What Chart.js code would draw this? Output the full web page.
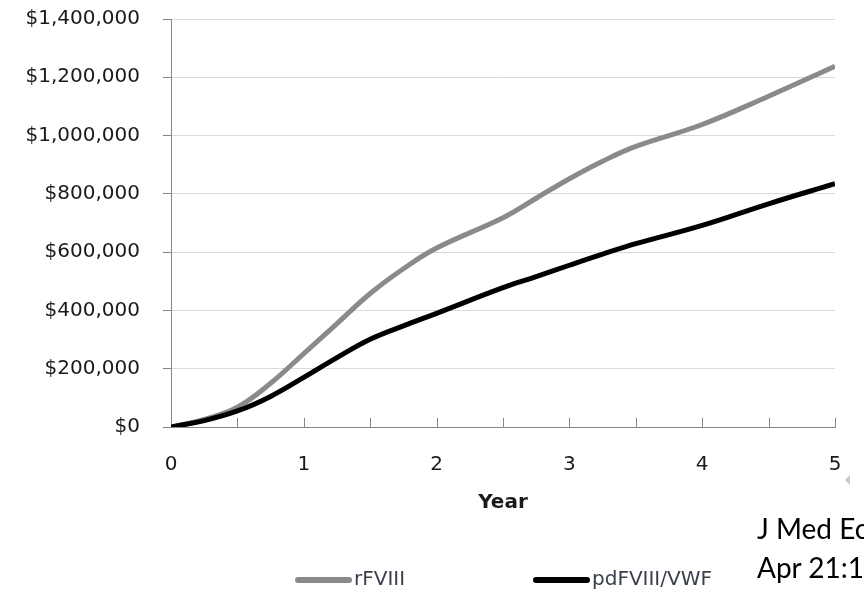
<!DOCTYPE html>
<html>
<head>
<meta charset="utf-8">
<script src="https://cdn.jsdelivr.net/npm/chart.js@4"></script>
<style>
  html, body { margin: 0; padding: 0; background: #fff; overflow: hidden; }
  #wrap { position: relative; width: 864px; height: 591px; }
  #note { position: absolute; left: 757px; top: 509px; font-family: Lato, "Open Sans", sans-serif; font-size: 28px; line-height: 39px; color: #000; white-space: nowrap; }
  #tri { position: absolute; left: 845px; top: 475px; width: 0; height: 0; border-top: 5px solid transparent; border-bottom: 5px solid transparent; border-right: 5px solid #c8c8c8; }
</style>
</head>
<body>
<div id="wrap">
  <canvas id="c"></canvas>
  <div id="tri"></div>
  <div id="note">J Med Ec<br>Apr 21:1</div>
</div>
<script>
// ---- data ----
const years   = [0, 0.25, 0.5, 0.75, 1, 1.25, 1.5, 1.75, 2, 2.5, 2.75, 3, 3.25, 3.5, 4, 4.5, 5];
const rFVIII  = [0, 26000, 68000, 150000, 252000, 355000, 458000, 543000, 614000, 718000, 785000, 852000, 912000, 963000, 1038000, 1135000, 1238000];
const pdFVIII = [0, 22000, 55000, 105000, 170000, 238000, 301000, 347000, 390000, 478000, 516000, 555000, 593000, 629000, 692000, 766000, 835000];
const seriesNames = ['rFVIII', 'pdFVIII/VWF'];
const xTickLabels = ['0', '1', '2', '3', '4', '5'];
const yTickValues = [0, 200000, 400000, 600000, 800000, 1000000, 1200000, 1400000];

const toPoints = (xs, ys) => xs.map((x, i) => ({ x: x, y: ys[i] }));

const innerTicks = {
  id: 'innerTicks',
  beforeDatasetsDraw(chart) {
    const xs = chart.scales.x, ctx = chart.ctx;
    const y0 = chart.chartArea.bottom;
    ctx.save();
    ctx.strokeStyle = '#868686';
    ctx.lineWidth = 1;
    xs.ticks.forEach(t => {
      if (t.value === 0) return;
      const px = Math.round(xs.getPixelForValue(t.value)) + 0.5;
      ctx.beginPath();
      ctx.moveTo(px, y0);
      ctx.lineTo(px, y0 - 9);
      ctx.stroke();
    });
    ctx.restore();
  }
};

const customLegend = {
  id: 'customLegend',
  afterDraw(chart, args, opts) {
    const ctx = chart.ctx;
    const left = chart.chartArea.left;
    ctx.save();
    chart.data.datasets.forEach((ds, i) => {
      const x0 = left + opts.offsets[i];
      const y = opts.y;
      ctx.strokeStyle = ds.borderColor;
      ctx.lineWidth = 6;
      ctx.lineCap = 'round';
      ctx.beginPath();
      ctx.moveTo(x0 + 3, y);
      ctx.lineTo(x0 + 54, y);
      ctx.stroke();
      ctx.fillStyle = '#3a3f4c';
      ctx.font = '20px "DejaVu Sans"';
      ctx.textBaseline = 'middle';
      ctx.textAlign = 'left';
      ctx.fillText(ds.label, x0 + 59, y);
    });
    ctx.restore();
  }
};

new Chart(document.getElementById('c'), {
  type: 'line',
  data: {
    datasets: [
      { label: seriesNames[0], data: toPoints(years, rFVIII), borderColor: '#8a8a8a', borderWidth: 5, pointRadius: 0, tension: 0.4, fill: false, order: 2 },
      { label: seriesNames[1], data: toPoints(years, pdFVIII), borderColor: '#000000', borderWidth: 5, pointRadius: 0, tension: 0.4, fill: false, order: 1 }
    ]
  },
  options: {
    responsive: true,
    maintainAspectRatio: false,
    animation: false,
    layout: { padding: { top: 19, right: 29, left: 0, bottom: 0 } },
    plugins: {
      legend: { display: false },
      tooltip: { enabled: false },
      customLegend: { offsets: [124, 362], y: 580 }
    },
    scales: {
      x: {
        type: 'linear',
        min: 0, max: 5,
        afterFit: s => { s.height = 164; s.paddingLeft = 0; s.paddingRight = 0; },
        grid: { drawOnChartArea: false, drawTicks: false },
        border: { color: '#868686', width: 1 },
        ticks: {
          stepSize: 0.5,
          autoSkip: false,
          maxRotation: 0,
          padding: 26,
          color: '#1a1a1a',
          font: { family: 'DejaVu Sans', size: 20 },
          callback: v => (Number.isInteger(v) ? xTickLabels[v] : '')
        },
        title: {
          display: true,
          text: 'Year',
          color: '#1a1a1a',
          font: { family: 'DejaVu Sans', size: 20, weight: 'bold' },
          padding: { top: 0, bottom: 76 }
        }
      },
      y: {
        min: 0, max: 1400000,
        afterFit: s => { s.width = 171; s.paddingTop = 0; s.paddingBottom = 0; },
        afterBuildTicks: s => { s.ticks = yTickValues.map(v => ({ value: v })); },
        grid: { color: '#d9d9d9', lineWidth: 1, tickLength: 8, tickColor: '#868686' },
        border: { color: '#868686', width: 1 },
        ticks: {
          padding: 23,
          color: '#1a1a1a',
          font: { family: 'DejaVu Sans', size: 20 },
          callback: v => '$' + Number(v).toLocaleString('en-US')
        }
      }
    }
  },
  plugins: [innerTicks, customLegend]
});
</script>
</body>
</html>
